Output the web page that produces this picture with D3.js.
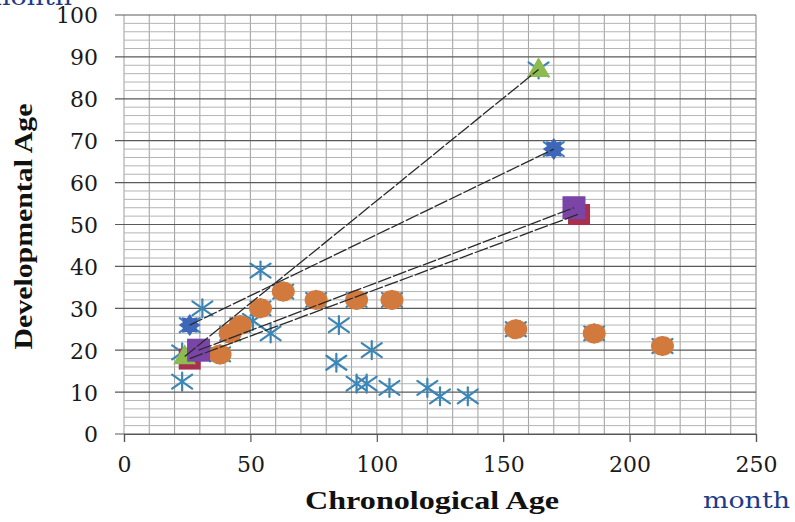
<!DOCTYPE html>
<html>
<head>
<meta charset="utf-8">
<script src="https://cdn.jsdelivr.net/npm/d3@7"></script>
<style>
  html,body{margin:0;padding:0;background:#fff;}
  svg{display:block;}
</style>
</head>
<body>
<svg id="chart" width="795" height="522"></svg>
<script>
// ---- data ----
const xTicks = [0, 50, 100, 150, 200, 250];
const yTicks = [0, 10, 20, 30, 40, 50, 60, 70, 80, 90, 100];

// all subjects (asterisk markers)
const asterisks = [
  [23, 12.5], [23, 19.5], [31, 30], [54, 39], [51, 27], [58, 24],
  [85, 26], [84, 17], [98, 20], [92, 12], [96, 12], [105, 11],
  [120, 11], [125, 9], [136, 9],
  [26, 26], [170, 68], [164, 87],
  [38, 19], [42, 24], [46, 26], [54, 30], [63, 34], [76, 32],
  [92, 32], [106, 32], [155, 25], [186, 24], [213, 21]
];
// orange circles
const circles = [
  [38, 19], [42, 24], [46, 26], [54, 30], [63, 34], [76, 32],
  [92, 32], [106, 32], [155, 25], [186, 24], [213, 21]
];
// followed cases (first and second assessment)
const starCase = [[26, 26], [170, 68]];
const triangleCase = [[24, 18.5], [164, 87]];
const redCase = [[26, 18], [180, 52.5]];
const purpleCase = [[29.5, 20], [178, 54]];

// ---- layout ----
const svg = d3.select("#chart");
const W = 795, H = 522;
const x = d3.scaleLinear().domain([0, 250]).range([124, 756]);
const y = d3.scaleLinear().domain([0, 100]).range([434, 15]);

svg.append("rect").attr("width", W).attr("height", H).attr("fill", "#fff");

const grid = svg.append("g");
// vertical gridlines every 10
d3.range(0, 251, 10).forEach(v => {
  grid.append("line")
    .attr("x1", x(v)).attr("x2", x(v))
    .attr("y1", y(100)).attr("y2", y(0))
    .attr("stroke", v === 250 ? "#8a8a8a" : "#a6a6a6").attr("stroke-width", 1.1);
});
// minor horizontal gridlines every 2
d3.range(0, 101, 2).filter(v => v % 10 !== 0).forEach(v => {
  grid.append("line")
    .attr("x1", x(0)).attr("x2", x(250))
    .attr("y1", y(v)).attr("y2", y(v))
    .attr("stroke", "#b4b4b4").attr("stroke-width", 1);
});
// major horizontal lines every 10 (extend left as ticks)
yTicks.forEach(v => {
  grid.append("line")
    .attr("x1", x(0) - 9).attr("x2", x(250))
    .attr("y1", y(v)).attr("y2", y(v))
    .attr("stroke", "#5a5a5a").attr("stroke-width", 1.2);
});

// axes via d3 axis generators
const yAxis = d3.axisLeft(y).tickValues(yTicks).tickSize(0).tickPadding(26);
const yg = svg.append("g").attr("transform", `translate(${x(0)},0)`).call(yAxis);
yg.select(".domain").remove();
yg.selectAll("text")
  .attr("font-family", "DejaVu Serif").attr("font-size", 22).attr("fill", "#1a1a1a")
  .attr("dy", "0.36em");

const xAxis = d3.axisBottom(x).tickValues(xTicks).tickSize(8).tickPadding(14);
const xg = svg.append("g").attr("transform", `translate(0,${y(0)})`).call(xAxis);
xg.select(".domain").attr("stroke", "#555").attr("stroke-width", 1.2);
xg.selectAll(".tick line").attr("stroke", "#555").attr("stroke-width", 1.2);
xg.selectAll("text")
  .attr("font-family", "DejaVu Serif").attr("font-size", 22).attr("fill", "#1a1a1a");

// ---- markers ----
const marks = svg.append("g");

// asterisks
const astColor = "#3b86b6";
asterisks.forEach(d => {
  const g = marks.append("g").attr("transform", `translate(${x(d[0])},${y(d[1])})`)
    .attr("stroke", astColor).attr("stroke-width", 2.2).attr("stroke-linecap", "round");
  g.append("line").attr("x1", 0).attr("y1", -9).attr("x2", 0).attr("y2", 9);
  g.append("line").attr("x1", -10).attr("y1", -7).attr("x2", 10).attr("y2", 7);
  g.append("line").attr("x1", -10).attr("y1", 7).attr("x2", 10).attr("y2", -7);
});

// orange circles
marks.selectAll("ellipse.c").data(circles).join("ellipse")
  .attr("class", "c")
  .attr("cx", d => x(d[0])).attr("cy", d => y(d[1]))
  .attr("rx", 11.5).attr("ry", 10)
  .attr("fill", "#d27a3e");

// red squares
marks.selectAll("rect.r").data(redCase).join("rect")
  .attr("class", "r")
  .attr("x", d => x(d[0]) - 11).attr("y", d => y(d[1]) - 10)
  .attr("width", 22).attr("height", 21)
  .attr("fill", "#a8304c");

// green triangles
const tri = d3.symbol().type(d3.symbolTriangle).size(230);
marks.selectAll("path.t").data(triangleCase).join("path")
  .attr("class", "t")
  .attr("transform", d => `translate(${x(d[0])},${y(d[1]) + 1})`)
  .attr("d", tri)
  .attr("fill", "#8dbb50");

// purple squares
marks.selectAll("rect.p").data(purpleCase).join("rect")
  .attr("class", "p")
  .attr("x", d => x(d[0]) - 11.5).attr("y", d => y(d[1]) - 11.5)
  .attr("width", 23).attr("height", 23)
  .attr("fill", "#7a45a6");

// blue starburst
function burst(n, ro, ri) {
  const pts = [];
  for (let i = 0; i < n * 2; i++) {
    const a = Math.PI * i / n - Math.PI / 2;
    const r = i % 2 === 0 ? ro : ri;
    pts.push([Math.cos(a) * r, Math.sin(a) * r]);
  }
  return "M" + pts.map(p => p.join(",")).join("L") + "Z";
}
marks.selectAll("path.s").data(starCase).join("path")
  .attr("class", "s")
  .attr("transform", d => `translate(${x(d[0])},${y(d[1])})`)
  .attr("d", burst(8, 11, 7.5))
  .attr("fill", "#3e66b9");

// connecting lines (drawn on top)
const line = d3.line().x(d => x(d[0])).y(d => y(d[1]));
[starCase, triangleCase, redCase, purpleCase].forEach(s => {
  svg.append("path").attr("d", line(s))
    .attr("fill", "none").attr("stroke", "#2a2a2a").attr("stroke-width", 1.3)
    .attr("stroke-dasharray", "14 2");
});

// ---- titles ----
svg.append("text")
  .attr("transform", `translate(32,${(y(0) + y(100)) / 2 + 2}) rotate(-90)`)
  .attr("text-anchor", "middle")
  .attr("font-family", "Liberation Serif").attr("font-weight", "bold")
  .attr("font-size", 25).attr("fill", "#111")
  .attr("textLength", 246).attr("lengthAdjust", "spacingAndGlyphs")
  .text("Developmental Age");

svg.append("text")
  .attr("x", 432).attr("y", 509)
  .attr("text-anchor", "middle")
  .attr("font-family", "Liberation Serif").attr("font-weight", "bold")
  .attr("font-size", 25).attr("fill", "#111")
  .attr("textLength", 254).attr("lengthAdjust", "spacingAndGlyphs")
  .text("Chronological Age");

svg.append("text")
  .attr("x", 790).attr("y", 508)
  .attr("text-anchor", "end")
  .attr("font-family", "DejaVu Serif")
  .attr("font-size", 22).attr("fill", "#1d3c86")
  .attr("textLength", 87).attr("lengthAdjust", "spacingAndGlyphs")
  .text("month");

svg.append("text")
  .attr("x", 72).attr("y", 5)
  .attr("text-anchor", "end")
  .attr("font-family", "DejaVu Serif")
  .attr("font-size", 22).attr("fill", "#1d3c86")
  .attr("textLength", 87).attr("lengthAdjust", "spacingAndGlyphs")
  .text("month");
</script>
</body>
</html>
